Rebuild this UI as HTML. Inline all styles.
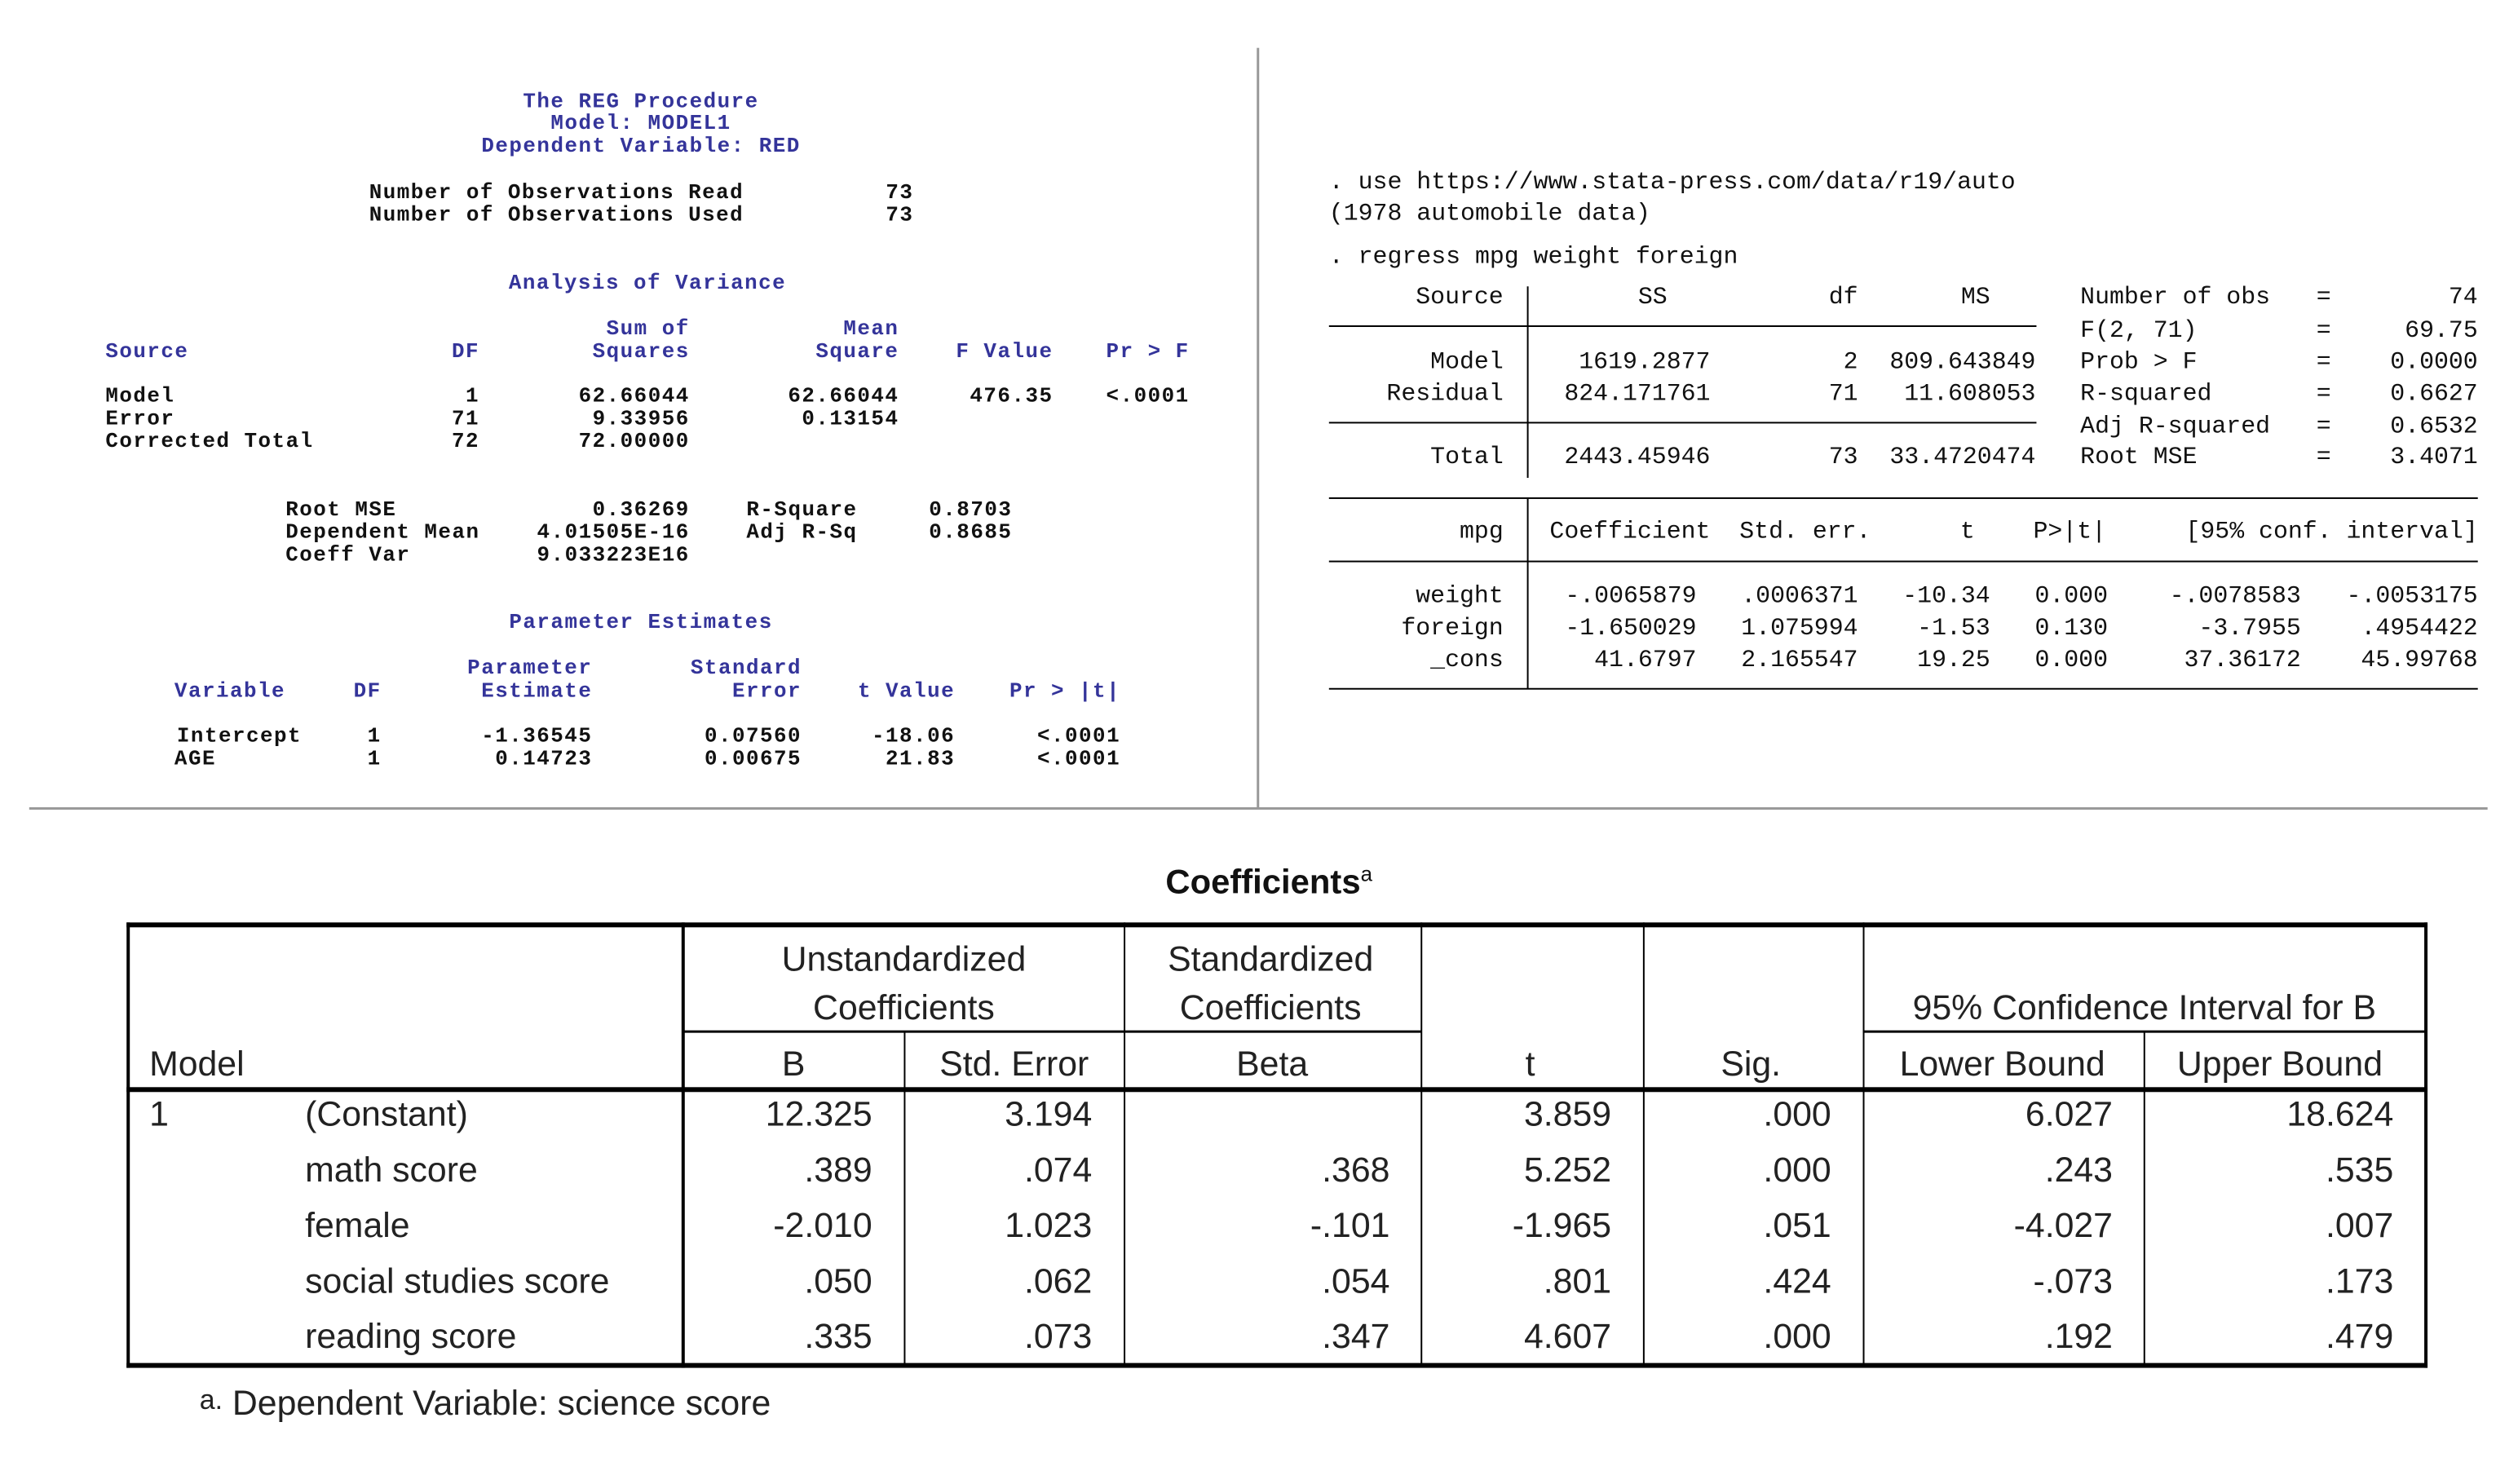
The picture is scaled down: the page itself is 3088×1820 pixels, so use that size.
<!DOCTYPE html>
<html><head><meta charset="utf-8"><style>
html,body{margin:0;padding:0;background:#fff}
#o{position:relative;width:3088px;height:1820px;overflow:hidden;background:#fff}
#p{position:absolute;left:0;top:0;width:3088px;height:1820px;transform:scale(0.995);transform-origin:0 0}
#p div{position:absolute;white-space:pre;line-height:1}
.l{transform:translate(0,-50%)}.r{transform:translate(-100%,-50%)}.c{transform:translate(-50%,-50%)}
.s{font-family:"Liberation Mono",monospace;font-weight:bold;font-size:26px;letter-spacing:1.5px;color:#111}
.b{color:#34349a}
.t{font-family:"Liberation Mono",monospace;font-size:30px;color:#111}
.q{font-family:"Liberation Sans",sans-serif;font-size:43px;color:#222}
.ln{background:#000}
</style></head><body><div id="o"><div id="p">
<div style="left:1549px;top:59px;width:3px;height:938px;background:#999"></div>
<div style="left:36px;top:995px;width:3030px;height:3px;background:#999"></div>

<div class="s b c" style="left:790px;top:125px">The REG Procedure</div>
<div class="s b c" style="left:790px;top:152px">Model: MODEL1</div>
<div class="s b c" style="left:790px;top:180px">Dependent Variable: RED</div>
<div class="s l" style="left:455px;top:237px">Number of Observations Read</div>
<div class="s r" style="left:1126px;top:237px">73</div>
<div class="s l" style="left:455px;top:265px">Number of Observations Used</div>
<div class="s r" style="left:1126px;top:265px">73</div>
<div class="s b c" style="left:798px;top:349px">Analysis of Variance</div>
<div class="s b r" style="left:850px;top:405px">Sum of</div>
<div class="s b r" style="left:1108px;top:405px">Mean</div>
<div class="s b l" style="left:130px;top:433px">Source</div>
<div class="s b r" style="left:591px;top:433px">DF</div>
<div class="s b r" style="left:850px;top:433px">Squares</div>
<div class="s b r" style="left:1108px;top:433px">Square</div>
<div class="s b r" style="left:1298px;top:433px">F Value</div>
<div class="s b r" style="left:1466px;top:433px">Pr &gt; F</div>
<div class="s l" style="left:130px;top:488px">Model</div>
<div class="s r" style="left:591px;top:488px">1</div>
<div class="s r" style="left:850px;top:488px">62.66044</div>
<div class="s r" style="left:1108px;top:488px">62.66044</div>
<div class="s r" style="left:1298px;top:488px">476.35</div>
<div class="s r" style="left:1466px;top:488px">&lt;.0001</div>
<div class="s l" style="left:130px;top:516px">Error</div>
<div class="s r" style="left:591px;top:516px">71</div>
<div class="s r" style="left:850px;top:516px">9.33956</div>
<div class="s r" style="left:1108px;top:516px">0.13154</div>
<div class="s l" style="left:130px;top:544px">Corrected Total</div>
<div class="s r" style="left:591px;top:544px">72</div>
<div class="s r" style="left:850px;top:544px">72.00000</div>
<div class="s l" style="left:352px;top:628px">Root MSE</div>
<div class="s r" style="left:850px;top:628px">0.36269</div>
<div class="s l" style="left:920px;top:628px">R-Square</div>
<div class="s l" style="left:1145px;top:628px">0.8703</div>
<div class="s l" style="left:352px;top:656px">Dependent Mean</div>
<div class="s r" style="left:850px;top:656px">4.01505E-16</div>
<div class="s l" style="left:920px;top:656px">Adj R-Sq</div>
<div class="s l" style="left:1145px;top:656px">0.8685</div>
<div class="s l" style="left:352px;top:684px">Coeff Var</div>
<div class="s r" style="left:850px;top:684px">9.033223E16</div>
<div class="s b c" style="left:790px;top:767px">Parameter Estimates</div>
<div class="s b r" style="left:730px;top:823px">Parameter</div>
<div class="s b r" style="left:988px;top:823px">Standard</div>
<div class="s b l" style="left:215px;top:852px">Variable</div>
<div class="s b r" style="left:470px;top:852px">DF</div>
<div class="s b r" style="left:730px;top:852px">Estimate</div>
<div class="s b r" style="left:988px;top:852px">Error</div>
<div class="s b r" style="left:1177px;top:852px">t Value</div>
<div class="s b r" style="left:1381px;top:852px">Pr &gt; |t|</div>
<div class="s l" style="left:218px;top:907px">Intercept</div>
<div class="s r" style="left:470px;top:907px">1</div>
<div class="s r" style="left:730px;top:907px">-1.36545</div>
<div class="s r" style="left:988px;top:907px">0.07560</div>
<div class="s r" style="left:1177px;top:907px">-18.06</div>
<div class="s r" style="left:1381px;top:907px">&lt;.0001</div>
<div class="s l" style="left:215px;top:935px">AGE</div>
<div class="s r" style="left:470px;top:935px">1</div>
<div class="s r" style="left:730px;top:935px">0.14723</div>
<div class="s r" style="left:988px;top:935px">0.00675</div>
<div class="s r" style="left:1177px;top:935px">21.83</div>
<div class="s r" style="left:1381px;top:935px">&lt;.0001</div>

<div style="left:9px;top:1px;width:3088px;height:1000px">
<div class="t l" style="left:1629px;top:224px">. use https://www.stata-press.com/data/r19/auto</div>
<div class="t l" style="left:1629px;top:263px">(1978 automobile data)</div>
<div class="t l" style="left:1629px;top:316px">. regress mpg weight foreign</div>
<div class="ln" style="left:1873px;top:352px;width:2px;height:236px"></div>
<div class="ln" style="left:1873px;top:614px;width:2px;height:234px"></div>
<div class="ln" style="left:1629px;top:400px;width:872px;height:2px"></div>
<div class="ln" style="left:1629px;top:519px;width:872px;height:2px"></div>
<div class="ln" style="left:1629px;top:612px;width:1416px;height:2px"></div>
<div class="ln" style="left:1629px;top:690px;width:1416px;height:2px"></div>
<div class="ln" style="left:1629px;top:847px;width:1416px;height:2px"></div>
<div class="t r" style="left:1844px;top:366px">Source</div>
<div class="t c" style="left:2028px;top:366px">SS</div>
<div class="t r" style="left:2281px;top:366px">df</div>
<div class="t r" style="left:2444px;top:366px">MS</div>
<div class="t r" style="left:1844px;top:446px">Model</div>
<div class="t r" style="left:2099px;top:446px">1619.2877</div>
<div class="t r" style="left:2281px;top:446px">2</div>
<div class="t r" style="left:2500px;top:446px">809.643849</div>
<div class="t r" style="left:1844px;top:485px">Residual</div>
<div class="t r" style="left:2099px;top:485px">824.171761</div>
<div class="t r" style="left:2281px;top:485px">71</div>
<div class="t r" style="left:2500px;top:485px">11.608053</div>
<div class="t r" style="left:1844px;top:563px">Total</div>
<div class="t r" style="left:2099px;top:563px">2443.45946</div>
<div class="t r" style="left:2281px;top:563px">73</div>
<div class="t r" style="left:2500px;top:563px">33.4720474</div>
<div class="t l" style="left:2555px;top:366px">Number of obs</div>
<div class="t l" style="left:2555px;top:407px">F(2, 71)</div>
<div class="t l" style="left:2555px;top:446px">Prob &gt; F</div>
<div class="t l" style="left:2555px;top:485px">R-squared</div>
<div class="t l" style="left:2555px;top:525px">Adj R-squared</div>
<div class="t l" style="left:2555px;top:563px">Root MSE</div>
<div class="t c" style="left:2855px;top:366px">=</div>
<div class="t c" style="left:2855px;top:407px">=</div>
<div class="t c" style="left:2855px;top:446px">=</div>
<div class="t c" style="left:2855px;top:485px">=</div>
<div class="t c" style="left:2855px;top:525px">=</div>
<div class="t c" style="left:2855px;top:563px">=</div>
<div class="t r" style="left:3045px;top:366px">74</div>
<div class="t r" style="left:3045px;top:407px">69.75</div>
<div class="t r" style="left:3045px;top:446px">0.0000</div>
<div class="t r" style="left:3045px;top:485px">0.6627</div>
<div class="t r" style="left:3045px;top:525px">0.6532</div>
<div class="t r" style="left:3045px;top:563px">3.4071</div>
<div class="t r" style="left:1844px;top:655px">mpg</div>
<div class="t r" style="left:2099px;top:655px">Coefficient</div>
<div class="t r" style="left:2297px;top:655px">Std. err.</div>
<div class="t r" style="left:2425px;top:655px">t</div>
<div class="t r" style="left:2587px;top:655px">P&gt;|t|</div>
<div class="t r" style="left:3045px;top:655px">[95% conf. interval]</div>
<div class="t r" style="left:1844px;top:734px">weight</div>
<div class="t r" style="left:2082px;top:734px">-.0065879</div>
<div class="t r" style="left:2281px;top:734px">.0006371</div>
<div class="t r" style="left:2444px;top:734px">-10.34</div>
<div class="t r" style="left:2589px;top:734px">0.000</div>
<div class="t r" style="left:2827px;top:734px">-.0078583</div>
<div class="t r" style="left:3045px;top:734px">-.0053175</div>
<div class="t r" style="left:1844px;top:774px">foreign</div>
<div class="t r" style="left:2082px;top:774px">-1.650029</div>
<div class="t r" style="left:2281px;top:774px">1.075994</div>
<div class="t r" style="left:2444px;top:774px">-1.53</div>
<div class="t r" style="left:2589px;top:774px">0.130</div>
<div class="t r" style="left:2827px;top:774px">-3.7955</div>
<div class="t r" style="left:3045px;top:774px">.4954422</div>
<div class="t r" style="left:1844px;top:813px">_cons</div>
<div class="t r" style="left:2082px;top:813px">41.6797</div>
<div class="t r" style="left:2281px;top:813px">2.165547</div>
<div class="t r" style="left:2444px;top:813px">19.25</div>
<div class="t r" style="left:2589px;top:813px">0.000</div>
<div class="t r" style="left:2827px;top:813px">37.36172</div>
<div class="t r" style="left:3045px;top:813px">45.99768</div>
</div>

<div class="q c" style="left:1564px;top:1086px;font-weight:bold;font-size:42px;color:#111">Coefficients<span style="font-weight:normal;font-size:26px;vertical-align:super">a</span></div>
<div class="ln" style="left:156px;top:1137px;width:2836px;height:6px"></div>
<div class="ln" style="left:156px;top:1680px;width:2836px;height:6px"></div>
<div class="ln" style="left:156px;top:1340px;width:2836px;height:6px"></div>
<div class="ln" style="left:156px;top:1137px;width:4px;height:549px"></div>
<div class="ln" style="left:2988px;top:1137px;width:4px;height:549px"></div>
<div class="ln" style="left:840px;top:1137px;width:4px;height:549px"></div>
<div class="ln" style="left:1114px;top:1271px;width:2px;height:412px"></div>
<div class="ln" style="left:1385px;top:1137px;width:2px;height:546px"></div>
<div class="ln" style="left:1751px;top:1137px;width:2px;height:546px"></div>
<div class="ln" style="left:2025px;top:1137px;width:2px;height:546px"></div>
<div class="ln" style="left:2296px;top:1137px;width:2px;height:546px"></div>
<div class="ln" style="left:2642px;top:1271px;width:2px;height:412px"></div>
<div class="ln" style="left:842px;top:1270px;width:910px;height:3px"></div>
<div class="ln" style="left:2296px;top:1270px;width:694px;height:3px"></div>
<div class="q c" style="left:1114px;top:1183px">Unstandardized</div>
<div class="q c" style="left:1114px;top:1243px">Coefficients</div>
<div class="q c" style="left:1566px;top:1183px">Standardized</div>
<div class="q c" style="left:1566px;top:1243px">Coefficients</div>
<div class="q c" style="left:2643px;top:1243px">95% Confidence Interval for B</div>
<div class="q l" style="left:184px;top:1312px">Model</div>
<div class="q c" style="left:978px;top:1312px">B</div>
<div class="q c" style="left:1250px;top:1312px">Std. Error</div>
<div class="q c" style="left:1568px;top:1312px">Beta</div>
<div class="q c" style="left:1886px;top:1312px">t</div>
<div class="q c" style="left:2158px;top:1312px">Sig.</div>
<div class="q c" style="left:2468px;top:1312px">Lower Bound</div>
<div class="q c" style="left:2810px;top:1312px">Upper Bound</div>
<div class="q l" style="left:184px;top:1374px">1</div>
<div class="q l" style="left:376px;top:1374px">(Constant)</div>
<div class="q l" style="left:376px;top:1443px">math score</div>
<div class="q l" style="left:376px;top:1511px">female</div>
<div class="q l" style="left:376px;top:1580px">social studies score</div>
<div class="q l" style="left:376px;top:1648px">reading score</div>
<div class="q r" style="left:1075px;top:1374px">12.325</div><div class="q r" style="left:1346px;top:1374px">3.194</div><div class="q r" style="left:1986px;top:1374px">3.859</div><div class="q r" style="left:2257px;top:1374px">.000</div><div class="q r" style="left:2604px;top:1374px">6.027</div><div class="q r" style="left:2950px;top:1374px">18.624</div>
<div class="q r" style="left:1075px;top:1443px">.389</div><div class="q r" style="left:1346px;top:1443px">.074</div><div class="q r" style="left:1713px;top:1443px">.368</div><div class="q r" style="left:1986px;top:1443px">5.252</div><div class="q r" style="left:2257px;top:1443px">.000</div><div class="q r" style="left:2604px;top:1443px">.243</div><div class="q r" style="left:2950px;top:1443px">.535</div>
<div class="q r" style="left:1075px;top:1511px">-2.010</div><div class="q r" style="left:1346px;top:1511px">1.023</div><div class="q r" style="left:1713px;top:1511px">-.101</div><div class="q r" style="left:1986px;top:1511px">-1.965</div><div class="q r" style="left:2257px;top:1511px">.051</div><div class="q r" style="left:2604px;top:1511px">-4.027</div><div class="q r" style="left:2950px;top:1511px">.007</div>
<div class="q r" style="left:1075px;top:1580px">.050</div><div class="q r" style="left:1346px;top:1580px">.062</div><div class="q r" style="left:1713px;top:1580px">.054</div><div class="q r" style="left:1986px;top:1580px">.801</div><div class="q r" style="left:2257px;top:1580px">.424</div><div class="q r" style="left:2604px;top:1580px">-.073</div><div class="q r" style="left:2950px;top:1580px">.173</div>
<div class="q r" style="left:1075px;top:1648px">.335</div><div class="q r" style="left:1346px;top:1648px">.073</div><div class="q r" style="left:1713px;top:1648px">.347</div><div class="q r" style="left:1986px;top:1648px">4.607</div><div class="q r" style="left:2257px;top:1648px">.000</div><div class="q r" style="left:2604px;top:1648px">.192</div><div class="q r" style="left:2950px;top:1648px">.479</div>
<div class="q l" style="left:246px;top:1730px"><span style="font-size:34px;vertical-align:top">a.</span> Dependent Variable: science score</div>
</div></div></body></html>
